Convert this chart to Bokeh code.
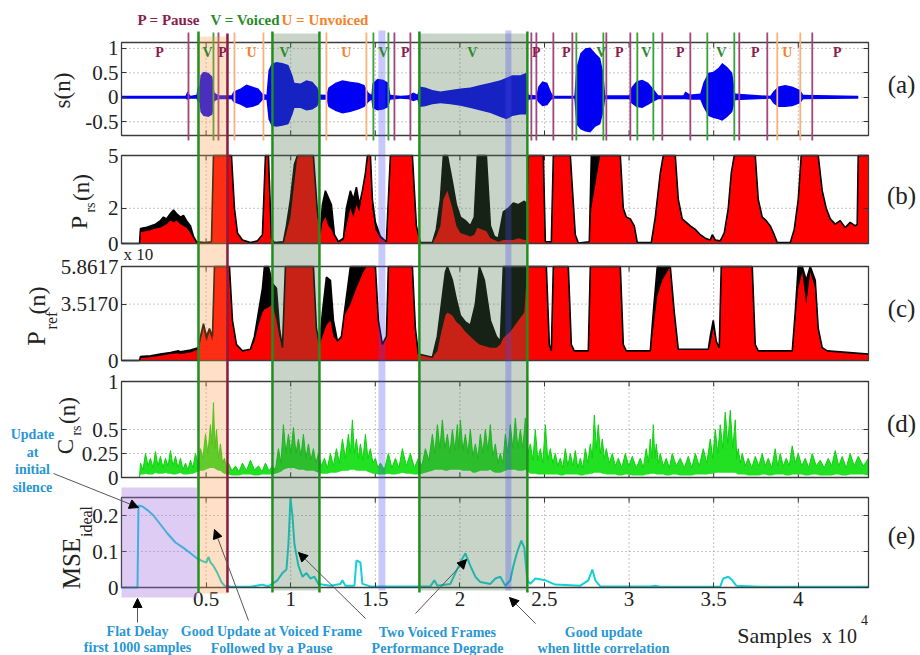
import numpy as np
from bokeh.plotting import figure
from bokeh.models import (Range1d, LinearAxis, FixedTicker, Label, Arrow,
                          NormalHead, BoxAnnotation)
from bokeh.embed import file_html
from bokeh.resources import INLINE

# ------------------------------------------------------------------ data
X_END = 44150

# (a) speech waveform s(n): envelope (upper / lower) along the samples
wave_x = [0, 3781, 3899, 4077, 4431, 4490, 4608, 4667, 4845, 5140, 5376, 5494, 5731,
          6499, 6617, 7031, 7385, 7739, 8094, 8330, 8567, 8685, 8863, 9158, 9512, 9866,
          10103, 10221, 10575, 10930, 11284, 11580, 11698, 12112, 12230, 12643, 13057,
          13530, 14002, 14356, 14593, 14770, 14829, 15124, 15479, 15774, 15892, 16483,
          16956, 17251, 17487, 17606, 17960, 18374, 18847, 19437, 20028, 20619, 21210,
          21801, 22391, 22746, 23100, 23573, 23927, 24046, 24518, 24636, 24873, 25168,
          25404, 25523, 26764, 26881, 27118, 27413, 27709, 28004, 28299, 28477, 28595,
          30013, 30131, 30426, 30781, 31135, 31490, 31726, 33203, 33321, 33617, 34208,
          34385, 34680, 34976, 35271, 35507, 35803, 36098, 36275, 38343, 38520, 38816,
          39229, 39643, 40113, 40293, 43542]
wave_hi = [.03, .03, .12, .03, .05, .2, .22, .45, .52, .5, .42, .1, .04,
           .04, .12, .18, .26, .22, .18, .08, .05, .55, .68, .72, .7, .66,
           .45, .3, .28, .35, .32, .2, .06, .05, .2, .3, .35,
           .32, .3, .25, .1, .05, .28, .38, .36, .3, .05, .03,
           .04, .1, .06, .22, .2, .15, .12, .15, .18, .2, .25,
           .3, .35, .4, .45, .45, .5, .05, .04, .22, .33, .3,
           .1, .03, .03, .6, .9, 1.0, 1.02, .9, .8, .5, .04,
           .04, .2, .33, .36, .3, .15, .04, .04, .12, .06, .08,
           .3, .5, .52, .6, .7, .62, .5, .08, .03, .12, .22,
           .25, .22, .15, .05, .03]
wave_lo = [-.03, -.03, -.05, -.03, -.03, -.08, -.1, -.3, -.38, -.4, -.35, -.08, -.04,
           -.04, -.1, -.15, -.22, -.2, -.15, -.06, -.05, -.45, -.58, -.6, -.58, -.55,
           -.35, -.22, -.22, -.27, -.25, -.18, -.05, -.05, -.2, -.28, -.33,
           -.3, -.25, -.2, -.1, -.05, -.22, -.27, -.25, -.2, -.05, -.03,
           -.04, -.08, -.05, -.2, -.18, -.14, -.12, -.14, -.17, -.22, -.27,
           -.32, -.4, -.45, -.38, -.35, -.35, -.05, -.04, -.1, -.18, -.16,
           -.05, -.03, -.03, -.55, -.65, -.7, -.72, -.6, -.55, -.3, -.04,
           -.04, -.12, -.2, -.22, -.15, -.08, -.04, -.04, -.04, -.05, -.05,
           -.2, -.38, -.42, -.45, -.48, -.4, -.3, -.06, -.03, -.12, -.2,
           -.2, -.18, -.12, -.04, -.03]

# (b) P_rs(n): two estimates (black, red)
prs_x = [0, 1063, 1123, 1418, 1713, 2009, 2304, 2481, 2659, 2895, 3072, 3249, 3486, 3663,
         3840, 4077, 4254, 4431, 4963, 5317, 5435, 6499, 6676, 6853, 7149, 7621, 8035,
         8330, 8508, 8685, 8862, 9039, 9571, 9748, 9985, 10221, 10398, 11343, 11580,
         11757, 11875, 12052, 12230, 12407, 12584, 12820, 13116, 13293, 13529, 13707,
         13884, 14061, 14238, 14416, 14534, 14711, 14829, 15006, 15302, 15656, 15893,
         17192, 17429, 17665, 18374, 18610, 18847, 19024, 19260, 19555, 19792, 20028,
         20324, 20619, 20855, 21032, 21564, 21801, 22037, 22273, 22569, 22864, 23159,
         23455, 23809, 23986, 24046, 24932, 25050, 25404, 25523, 26527, 26822, 27000,
         27649, 27768, 28122, 28299, 29481, 29658, 29835, 30072, 30308, 30485, 31312,
         31549, 31844, 32021, 32730, 32908, 33144, 33380, 33617, 33912, 34207, 34503,
         34798, 34916, 35094, 35389, 35625, 35862, 36039, 36216, 37457, 37634, 37870,
         38107, 38343, 38579, 38756, 39525, 39761, 39997, 40174, 41179, 41415, 41651,
         41888, 42183, 42479, 42774, 43069, 43365, 43483, 43542, 44150]
prs_black = [0, 0, .85, .9, 1.0, 1.1, 1.3, 1.5, 1.4, 1.7, 1.9, 1.7, 1.5, 1.6,
             1.3, 1.0, .4, .1, .05, .1, 5, 5, 2, .6, .2, .05, .15,
             .5, 5, 5, .3, .05, .1, 1.0, 2.5, 4.5, 5, 5, 1.8,
             .8, 2.2, 3.0, 2.6, 2.2, .5, .1, .3, 2.0, 3.0, 2.5,
             3.2, 2.2, 3.0, 4.0, 5, 5, 2.5, 1.2, .4, .1, 5,
             5, 1.0, .05, .05, .8, 2.5, 5, 5, 3.5, 2.2, 1.5,
             1.3, 1.0, 1.5, 5, 5, 1.0, .4, .3, 1.8, 2.0, 2.3,
             2.2, 2.4, 2.2, 5, 5, .1, .1, 5, 5, .5, .03,
             .1, 5, 5, 5, 5, 2, 1.5, 1.4, 1.0, .05, .05,
             1.5, 4.0, 5, 5, 2.5, 1.4, 1.2, 1.0, .8, .5, .3,
             .2, .5, .2, .15, .6, 2, 4, 5, 5, 2.5, 1.5,
             1.3, 1.0, .5, .05, .05, .8, 2.5, 5, 5, 3, 2,
             1.4, 1.1, 1.3, .9, 1.2, 1.0, 1.1, 5, 5]
prs_red = [0, 0, .65, .7, .75, .85, .9, 1.0, 1.1, 1.3, 1.2, 1.3, 1.1, 1.0,
           .9, .6, .3, .05, .03, .05, 5, 5, 2, .5, .2, .05, .15,
           .5, 5, 5, .2, .05, .05, .6, 1.5, 3.5, 5, 5, 1.5,
           .5, 1.2, 1.5, 1.0, .8, .4, .05, .2, 1.0, 2.0, 1.5,
           2.2, 1.8, 3.0, 3.8, 5, 5, 2.0, .8, .3, .1, 5,
           5, 1.0, .05, .05, .4, 1.0, 2.5, 3.0, 2.0, 1.0, .6,
           .5, .4, .5, .9, .7, .3, .2, .1, .2, .2, .2,
           .3, .2, .2, 5, 5, .1, .1, 5, 5, .5, .03,
           .1, 2, 4, 5, 5, 2, 1.5, 1.4, 1.0, .05, .05,
           1.5, 4.0, 5, 5, 2.5, 1.4, 1.2, 1.0, .8, .5, .3,
           .2, .5, .2, .15, .6, 2, 4, 5, 5, 2.5, 1.5,
           1.3, 1.0, .5, .05, .05, .8, 2.5, 5, 5, 3, 2,
           1.4, 1.1, 1.3, .9, 1.2, 1.0, 1.1, 5, 5]

# (c) P_ref(n): two estimates (black, red)
pref_x = [0, 1063, 1123, 1713, 2304, 2895, 3368, 3486, 4077, 4549, 4667, 4845, 5022,
          5199, 5376, 5494, 6381, 6558, 6794, 7149, 7621, 7858, 8094, 8330, 8448, 8685,
          8921, 9157, 9335, 9512, 9689, 11343, 11521, 11698, 11875, 12111, 12348, 12525,
          12761, 12998, 13175, 13529, 13884, 14238, 14475, 15006, 15184, 15420, 15656,
          15774, 17192, 17370, 17547, 18374, 18669, 18906, 19142, 19260, 19555, 19792,
          20028, 20324, 20619, 20914, 21151, 21446, 21801, 22155, 22391, 22569, 22982,
          23455, 23809, 23986, 25109, 25286, 25404, 25523, 26409, 26586, 26763, 27590,
          27709, 29481, 29658, 29835, 31253, 31431, 31667, 31963, 32435, 32672, 32908,
          34680, 34798, 34975, 35153, 35330, 35448, 37279, 37457, 37634, 39644, 39820,
          39997, 40234, 40470, 40707, 41002, 41179, 41415, 41710, 44150]
pref_black = [0, 0, .25, .3, .4, .5, .6, .55, .65, .8, 1.5, 2.3, 1.5,
              2.0, 1.5, 5.8617, 5.8617, 2.5, 1.0, .6, .7, 1.5, 3.0, 4.5, 5.8617, 5.8617,
              4.8, 4.5, 2.0, .8, 5.8617, 5.8617, 2.0, 1.0, 3.0, 5.2, 5.0, 2.5,
              1.2, 1.5, 3.0, 5.8617, 5.8617, 5.8617, 5.8617, 5.8617, 2.5, 1.0, 1.5,
              5.8617, 5.8617, 2.0, .4, .2, 1.5, 3.5, 5.5, 5.8617, 5.0, 3.8,
              2.8, 2.4, 2.2, 3.5, 5.8617, 5.0, 2.5, 1.5, 1.2, 5.8617, 5.8617,
              5.8617, 5.8617, 5.8617, 5.8617, 1.0, .6, 5.8617, 5.8617, 1.0, .6, .6,
              5.8617, 5.8617, 1.0, .6, .6, 3.0, 5.8617, 5.8617, 5.8617, 3.0, .7,
              .7, 1.5, 2.5, 1.2, .8, 5.8617, 5.8617, 1.0, .6, .6, 3.0,
              5.8617, 5.8617, 5.0, 5.8617, 5.0, 2.0, .8, .6, .4]
pref_red = [0, 0, .15, .2, .3, .4, .45, .4, .5, .7, 1.2, 2.0, 1.2,
            1.8, 1.2, 5.8617, 5.8617, 2.5, 1.0, .6, .7, 1.2, 2.2, 3.0, 3.2, 3.3,
            3.5, 2.5, 1.5, .8, 5.8617, 5.8617, 2.0, 1.0, 1.5, 2.2, 2.5, 1.5,
            1.2, 1.5, 2.8, 3.5, 4.5, 5.4, 5.8617, 5.8617, 2.5, 1.0, 1.5,
            5.8617, 5.8617, 2.0, .4, .2, .6, 1.8, 2.8, 3.0, 2.8, 2.4,
            2.2, 1.8, 1.5, 1.2, 1.0, .9, .8, .8, 1.0, 1.4, 1.8,
            2.5, 3.0, 5.8617, 5.8617, 1.0, .6, 5.8617, 5.8617, 1.0, .6, .6,
            5.8617, 5.8617, 1.0, .6, .6, 2.0, 4.0, 5.0, 5.8617, 3.0, .7,
            .7, 1.0, 2.0, 1.2, .8, 5.8617, 5.8617, 1.0, .6, .6, 2.5,
            4.5, 5.5, 3.5, 5.5, 4.5, 2.0, .8, .6, .4]

# (d) C_rs(n): spiky upper / lower envelope
crs_x = [0, 1063, 1123, 1270, 1418, 1565, 1713, 1860, 2009, 2156, 2304, 2452, 2600, 2748,
         2895, 3042, 3190, 3338, 3486, 3634, 3781, 3929, 4077, 4225, 4372, 4520, 4667,
         4815, 4963, 5110, 5258, 5347, 5435, 5524, 5613, 5731, 5849, 5967, 6085, 6204,
         6322, 6528, 6735, 6942, 7149, 7385, 7621, 7858, 8094, 8301, 8508, 8715, 8921,
         9099, 9276, 9424, 9571, 9719, 9866, 10014, 10162, 10310, 10457, 10605, 10753,
         10900, 11048, 11196, 11343, 11491, 11639, 11816, 11993, 12170, 12348, 12525,
         12702, 12880, 13057, 13234, 13411, 13529, 13647, 13766, 13884, 14002, 14120,
         14268, 14416, 14564, 14711, 14859, 15006, 15154, 15302, 15538, 15774, 15981,
         16188, 16395, 16601, 16838, 17074, 17311, 17547, 17754, 17960, 18167, 18374,
         18522, 18669, 18817, 18965, 19112, 19260, 19408, 19555, 19703, 19851, 19940,
         20028, 20176, 20324, 20472, 20619, 20767, 20914, 21062, 21210, 21358, 21505,
         21653, 21801, 21949, 22097, 22244, 22391, 22539, 22687, 22835, 22982, 23130,
         23278, 23426, 23573, 23721, 23868, 24016, 24164, 24312, 24459, 24607, 24755,
         24903, 25050, 25198, 25345, 25493, 25641, 25789, 25936, 26084, 26232, 26380,
         26527, 26675, 26822, 26970, 27118, 27266, 27413, 27561, 27709, 27827, 27945,
         28063, 28181, 28299, 28417, 28536, 28654, 28831, 29008, 29186, 29363, 29570,
         29776, 29983, 30190, 30427, 30663, 30840, 31017, 31135, 31253, 31342, 31431,
         31520, 31608, 31726, 31844, 32022, 32199, 32376, 32553, 32790, 33026, 33262,
         33498, 33705, 33912, 34149, 34385, 34592, 34798, 34946, 35094, 35242, 35389,
         35537, 35684, 35832, 35980, 36128, 36275, 36364, 36452, 36571, 36689, 36866,
         37043, 37250, 37457, 37664, 37870, 38048, 38225, 38432, 38638, 38786, 38934,
         39111, 39288, 39466, 39643, 39820, 39997, 40204, 40411, 40618, 40824, 41061,
         41297, 41534, 41770, 41977, 42183, 42390, 42597, 42833, 43069, 43306, 43542,
         43846, 44150]
crs_hi = [0, 0, .15, .08, .25, .12, .2, .1, .27, .12, .22, .1, .2, .12,
          .28, .12, .22, .1, .2, .08, .15, .08, .18, .1, .25, .15, .3,
          .2, .45, .25, .55, .35, .78, .3, .5, .2, .35, .15, .2, .1,
          .15, .07, .12, .06, .15, .07, .18, .08, .12, .06, .15, .07, .12,
          .08, .3, .15, .55, .25, .45, .25, .52, .25, .4, .22, .45,
          .2, .35, .18, .3, .15, .25, .12, .2, .1, .25, .12,
          .3, .15, .4, .2, .45, .25, .6, .25, .4, .2, .35,
          .18, .45, .2, .3, .15, .2, .1, .15, .08, .25, .1,
          .2, .1, .3, .12, .25, .1, .2, .12, .3, .18, .45,
          .25, .55, .3, .6, .3, .45, .25, .5, .28, .55, .3,
          .6, .28, .45, .25, .5, .22, .35, .2, .45, .25, .5,
          .28, .55, .22, .35, .15, .25, .15, .45, .25, .55, .3,
          .62, .3, .5, .3, .62, .25, .35, .18, .5, .18, .3,
          .15, .55, .18, .3, .15, .25, .12, .2, .1, .3, .12,
          .25, .12, .28, .1, .2, .1, .3, .15, .35, .2, .65,
          .3, .55, .25, .4, .2, .3, .15, .25, .12, .2, .1,
          .25, .12, .22, .1, .2, .1, .3, .15, .4, .2, .55,
          .2, .35, .15, .25, .12, .2, .1, .25, .12, .2, .1,
          .22, .1, .25, .12, .3, .15, .4, .2, .5, .25, .55,
          .3, .68, .35, .7, .3, .6, .2, .3, .15, .25, .12,
          .2, .1, .22, .12, .25, .12, .2, .1, .3, .12, .25,
          .12, .2, .12, .33, .15, .25, .12, .2, .1, .25, .12,
          .18, .1, .2, .12, .28, .12, .22, .1, .25, .12, .22,
          .12, .2]
crs_lo = [0, 0, .03, .03, .04, .03, .03, .03, .05, .04, .04, .04, .05, .04,
          .04, .03, .03, .04, .05, .03, .03, .03, .04, .04, .05, .06, .07,
          .07, .08, .09, .1, .1, .1, .09, .08, .07, .07, .05, .04, .03,
          .03, .02, .02, .02, .03, .03, .03, .02, .02, .03, .03, .03, .03,
          .04, .05, .06, .08, .09, .1, .1, .1, .09, .08, .08, .08,
          .07, .07, .07, .07, .06, .05, .04, .04, .04, .05, .05,
          .05, .06, .07, .07, .07, .08, .08, .08, .07, .07, .07,
          .07, .07, .06, .05, .04, .04, .03, .03, .03, .04, .03,
          .03, .04, .05, .04, .04, .03, .03, .04, .05, .06, .07,
          .08, .08, .08, .08, .07, .07, .08, .08, .08, .08, .08,
          .08, .07, .07, .07, .07, .05, .05, .06, .07, .07, .07,
          .07, .08, .06, .05, .05, .05, .06, .07, .08, .08, .08,
          .08, .07, .07, .07, .08, .06, .04, .04, .04, .03, .03,
          .03, .03, .03, .03, .03, .03, .03, .02, .02, .03, .03,
          .03, .03, .03, .03, .02, .02, .03, .03, .04, .04, .05,
          .05, .05, .05, .04, .04, .03, .03, .03, .03, .02, .02,
          .03, .03, .02, .02, .02, .02, .03, .03, .04, .04, .04,
          .04, .03, .03, .03, .03, .02, .02, .03, .03, .02, .02,
          .02, .02, .03, .03, .03, .03, .04, .04, .05, .05, .05,
          .05, .05, .05, .05, .05, .05, .04, .03, .03, .03, .03,
          .02, .02, .02, .02, .03, .03, .02, .02, .03, .03, .03,
          .03, .02, .02, .03, .03, .03, .03, .02, .02, .03, .03,
          .02, .02, .02, .02, .03, .03, .02, .02, .03, .03, .03,
          .03, .02]

# (e) MSE_ideal
mse_x = [0, 945, 1004, 1241, 1536, 1891, 2304, 2718, 3190, 3663, 4077, 4490, 4845, 5022,
         5140, 5258, 5435, 5672, 5908, 6085, 6440, 7621, 8330, 8685, 9216, 9512, 9748,
         9866, 9985, 10103, 10221, 10339, 10457, 10693, 10930, 11166, 11402, 11639, 12348,
         12939, 13057, 13234, 13766, 13884, 14120, 14238, 14711, 18256, 18492, 18669,
         19437, 19732, 20028, 20324, 20619, 20914, 21210, 21801, 22097, 22391, 22687,
         22982, 23159, 23395, 23632, 23809, 23986, 24164, 24459, 25050, 25641, 27118,
         27590, 27828, 28004, 28299, 31253, 31549, 31844, 35389, 35566, 35862, 36098,
         36334, 37753, 44150]
mse_val = [0, 0, .228, .225, .215, .2, .175, .15, .125, .11, .095, .08, .072, .07,
           .085, .07, .06, .04, .015, .005, .003, .002, .008, .003, .02, .04, .05,
           .12, .247, .2, .12, .09, .06, .03, .04, .025, .03, .01, .005,
           .01, .02, .005, .005, .075, .07, .01, .003, .003, .02, .005,
           .01, .04, .07, .095, .06, .03, .015, .01, .025, .03, .005,
           .02, .06, .1, .13, .11, .02, .01, .025, .02, .008, .005,
           .02, .05, .02, .003, .003, .005, .002, .003, .025, .03, .02,
           .005, .002, .002]

# frame classification markers (panel a)
marker_x = [3959, 5436, 5731, 6677, 8390, 12112, 14476, 14889, 15775, 16130, 17075,
            24224, 24520, 25524, 26647, 26883, 28479, 28656, 30074, 30487, 31433,
            31965, 33619, 34624, 36219, 36514, 38168, 38759, 40118, 40827]
marker_kind = ["P", "V", "P", "U", "U", "U", "U", "V", "V", "P", "P",
               "P", "P", "P", "P", "V", "V", "P", "P", "V", "V",
               "P", "P", "V", "V", "P", "P", "U", "U", "P"]
seg_label_x = [2245, 5081, 5967, 7680, 9630, 13293, 15479, 16779, 20737, 24518, 26291,
               28359, 29422, 31017, 33026, 35448, 37457, 39348, 42301]
seg_label = ["P", "V", "P", "U", "V", "U", "V", "P", "V", "P", "P",
             "V", "P", "V", "P", "V", "P", "U", "P"]

# highlighted frames
long_green_x = [4550, 8922, 11699, 17607, 23988]
pause_line_x = [6263]
orange_band = [(4550, 6263)]
gray_bands = [(8922, 11699), (17607, 23988)]
blue_bands = [(15185, 15598), (22688, 23043)]
purple_band = [(0, 4490)]

# ticks
x_ticks = [5000, 10000, 15000, 20000, 25000, 30000, 35000, 40000]
x_tick_labels = ["0.5", "1", "1.5", "2", "2.5", "3", "3.5", "4"]
s_ticks, s_tick_labels = [-0.5, 0, 0.5, 1], ["-0.5", "0", "0.5", "1"]
prs_ticks, prs_tick_labels = [0, 2, 5], ["0", "2", "5"]
pref_ticks, pref_tick_labels = [0, 3.5170, 5.8617], ["0", "3.5170", "5.8617"]
crs_ticks, crs_tick_labels = [0, 0.25, 0.5, 1], ["0", "0.25", "0.5", "1"]
mse_ticks, mse_tick_labels = [0, 0.1, 0.2], ["0", "0.1", "0.2"]

# ------------------------------------------------------------------ layout
W, H = 920, 655
BOX_L, BOX_R = 121, 868          # px of x = 0 and x = X_END
SERIF = "Liberation Serif"
PANELS = {
    "a": dict(vmin=-0.78, vmax=1.12, top=42, bot=135, ticks=s_ticks, labels=s_tick_labels),
    "b": dict(vmin=0, vmax=5, top=155, bot=243, ticks=prs_ticks, labels=prs_tick_labels),
    "c": dict(vmin=0, vmax=5.8617, top=266, bot=360, ticks=pref_ticks, labels=pref_tick_labels),
    "d": dict(vmin=0, vmax=1, top=381, bot=477, ticks=crs_ticks, labels=crs_tick_labels),
    "e": dict(vmin=0, vmax=0.25, top=497, bot=587, ticks=mse_ticks, labels=mse_tick_labels),
}


def to_u(v, s):
    return (H - s["bot"]) + (v - s["vmin"]) / (s["vmax"] - s["vmin"]) * (s["bot"] - s["top"])


def panel_range(s):
    ub, ut = H - s["bot"], H - s["top"]
    k = (s["vmax"] - s["vmin"]) / (ut - ub)
    return Range1d(start=s["vmin"] - ub * k, end=s["vmin"] + (H - ub) * k)


spp = X_END / (BOX_R - BOX_L)     # samples per pixel
p = figure(width=W, height=H,
           x_range=Range1d(-BOX_L * spp, X_END + (W - BOX_R) * spp),
           y_range=Range1d(0, H),
           output_backend="svg", toolbar_location=None, min_border=0,
           min_border_left=0, min_border_right=0, min_border_top=0, min_border_bottom=0,
           x_axis_location=None, y_axis_location=None)
p.outline_line_color = None
p.background_fill_color = "white"
p.border_fill_color = "white"
p.grid.visible = False

for name, s in PANELS.items():
    p.extra_y_ranges[name] = panel_range(s)

# combined left / right axes (one tick set for all five panels)
u_ticks, u_over = [], {}
for name, s in PANELS.items():
    for t, lab_ in zip(s["ticks"], s["labels"]):
        u = round(to_u(t, s), 3)
        u_ticks.append(u)
        u_over[u] = lab_

axis_style = dict(axis_line_color=None, major_tick_in=5, major_tick_out=0,
                  major_tick_line_color="#333333", minor_tick_line_color=None,
                  major_label_text_font=SERIF, major_label_text_font_size="21px",
                  major_label_text_color="#222222")
yl = LinearAxis(ticker=FixedTicker(ticks=u_ticks), major_label_overrides=u_over,
                major_label_standoff=3, fixed_location=0, **axis_style)
p.add_layout(yl, "left")
yr = LinearAxis(ticker=FixedTicker(ticks=u_ticks), fixed_location=X_END, **axis_style)
yr.major_label_text_color = None
p.add_layout(yr, "right")
xb = LinearAxis(ticker=FixedTicker(ticks=x_ticks),
                major_label_overrides=dict(zip(x_ticks, x_tick_labels)),
                major_label_standoff=4, fixed_location=H - PANELS["e"]["bot"], **axis_style)
p.add_layout(xb, "below")

# grids and small x ticks on each box edge
GRID = dict(line_color="#8c8c8c", line_dash="1 3", line_width=1)
for name, s in PANELS.items():
    hy = [t for t in s["ticks"] if s["vmin"] < t < s["vmax"]]
    n = len(x_ticks)
    if hy:
        p.segment(x0=[0] * len(hy), x1=[X_END] * len(hy), y0=hy, y1=hy,
                  y_range_name=name, **GRID)
    p.segment(x0=x_ticks, x1=x_ticks, y0=[s["vmin"]] * n, y1=[s["vmax"]] * n,
              y_range_name=name, **GRID)
    tk = 5 * (s["vmax"] - s["vmin"]) / (s["bot"] - s["top"])
    p.segment(x0=x_ticks, x1=x_ticks, y0=[s["vmax"]] * n, y1=[s["vmax"] - tk] * n,
              y_range_name=name, line_color="#333333", line_width=1)
    if name != "e":
        p.segment(x0=x_ticks, x1=x_ticks, y0=[s["vmin"]] * n, y1=[s["vmin"] + tk] * n,
                  y_range_name=name, line_color="#333333", line_width=1)

# data
p.varea(x=wave_x, y1=wave_lo, y2=wave_hi, fill_color="#0000f5", y_range_name="a")

p.varea(x=prs_x, y1=0, y2=prs_black, fill_color="black", y_range_name="b")
p.varea(x=prs_x, y1=0, y2=prs_red, fill_color="#ff0000", y_range_name="b")
p.line(x=prs_x, y=prs_black, line_color="black", line_width=1.6, y_range_name="b")

p.varea(x=pref_x, y1=0, y2=pref_black, fill_color="black", y_range_name="c")
p.varea(x=pref_x, y1=0, y2=pref_red, fill_color="#ff0000", y_range_name="c")
p.line(x=pref_x, y=pref_black, line_color="black", line_width=1.6, y_range_name="c")

p.varea(x=crs_x, y1=crs_lo, y2=crs_hi, fill_color="#22e022", y_range_name="d")
p.line(x=crs_x, y=crs_hi, line_color="#10d010", line_width=1, y_range_name="d")

p.line(x=mse_x, y=mse_val, line_color="#12d2d6", line_width=2, y_range_name="e")

# panel boxes
for name, s in PANELS.items():
    p.quad(left=[0], right=[X_END], bottom=[s["vmin"]], top=[s["vmax"]], fill_color=None,
           line_color="#3c3c3c", line_width=1.3, y_range_name=name)

# short marker lines in panel (a)
KCOL = {"P": "#a0467a", "V": "#3aa03a", "U": "#f8b27a"}
TCOL = {"P": "#8b1c4e", "V": "#2a8a2a", "U": "#f5822a"}
p.segment(x0=marker_x, x1=marker_x, y0=[H - 140] * len(marker_x),
          y1=[H - 32] * len(marker_x), line_color=[KCOL[k] for k in marker_kind],
          line_width=1.8)


def band(l, r, top, bot, color, alpha):
    p.add_layout(BoxAnnotation(left=l, right=r, top=top, bottom=bot, top_units="canvas",
                               bottom_units="canvas", fill_color=color, fill_alpha=alpha,
                               line_color=None, level="annotation"))


for l, r in purple_band:
    band(l, r, 487, 597, "#a06de2", 0.35)
for l, r in orange_band:
    band(l, r, 36, 593, "#f8983e", 0.3)
for l, r in gray_bands:
    band(l, r, 33, 590, "#487048", 0.3)
for l, r in blue_bands:
    band(l, r, 30, 590, "#4848ee", 0.3)
HW = 1.25 * spp
for x in long_green_x:
    band(x - HW, x + HW, 31, 592, "#1f8f1f", 1.0)
for x in pause_line_x:
    band(x - HW, x + HW, 33, 592, "#8b1a3e", 1.0)


def lab(x, y, text, size, color="#222222", bold=False, align="center", angle=0,
        baseline="middle", xunits="canvas"):
    p.add_layout(Label(x=x, y=y, x_units=xunits, y_units="canvas", text=text,
                       text_font=SERIF, text_font_size=f"{size}px", text_color=color,
                       text_font_style="bold" if bold else "normal", text_align=align,
                       text_baseline=baseline, angle=angle))


# top legend
lab(137, 19, "P = Pause", 15, TCOL["P"], True, "left")
lab(210, 19, "V = Voiced", 15, TCOL["V"], True, "left")
lab(281, 19, "U = Unvoiced", 15, TCOL["U"], True, "left")
for x, t in zip(seg_label_x, seg_label):
    lab(x, 52, t, 14, TCOL[t], True, xunits="data")

# panel letters
for t, y in zip(["(a)", "(b)", "(c)", "(d)", "(e)"], [84, 195, 308, 423, 535]):
    lab(901, y, t, 25)

# y-axis labels (rotated)
R = np.pi / 2
lab(62, 90, "s(n)", 23, angle=R)
lab(78, 222, "P", 24, angle=R)
lab(90, 207, "rs", 14, angle=R)
lab(81, 187, "(n)", 23, angle=R)
lab(36, 338, "P", 26, angle=R)
lab(51, 320, "ref", 16, angle=R)
lab(36, 300, "(n)", 24, angle=R)
lab(65, 446, "C", 23, angle=R)
lab(76, 430, "rs", 14, angle=R)
lab(67, 410, "(n)", 23, angle=R)
lab(71, 563, "MSE", 25, angle=R)
lab(86, 521, "ideal", 16, angle=R)
lab(123, 254, "x 10", 17, align="left")

# x-axis label
lab(774, 635, "Samples", 22)
lab(839, 635, "x 10", 20)
lab(864, 619, "4", 14)

# annotations
BLUE = "#2a96d4"
lab(32, 434, "Update", 14, BLUE, True)
lab(32, 452, "at", 14, BLUE, True)
lab(32, 469, "initial", 14, BLUE, True)
lab(32, 487, "silence", 14, BLUE, True)
lab(137, 631, "Flat Delay", 14, BLUE, True)
lab(137, 647, "first 1000 samples", 14, BLUE, True)
lab(271, 631, "Good Update at Voiced Frame", 14, BLUE, True)
lab(271, 648, "Followed by a Pause", 14, BLUE, True)
lab(437, 632, "Two Voiced Frames", 14, BLUE, True)
lab(437, 648, "Performance Degrade", 14, BLUE, True)
lab(603, 632, "Good update", 14, BLUE, True)
lab(603, 648, "when little correlation", 14, BLUE, True)

for (x0, y0, x1, y1) in [(53, 473, 138, 507), (137, 622, 137, 598), (248, 620, 214, 529),
                         (365, 618, 298, 552), (415, 613, 466, 559), (535, 623, 509, 597)]:
    p.add_layout(Arrow(x_start=x0, y_start=y0, x_end=x1, y_end=y1, start_units="canvas",
                       end_units="canvas", line_color="#555555", line_width=1,
                       end=NormalHead(size=9, fill_color="black", line_color="black")))

open("out.html", "w").write(file_html(p, INLINE))
